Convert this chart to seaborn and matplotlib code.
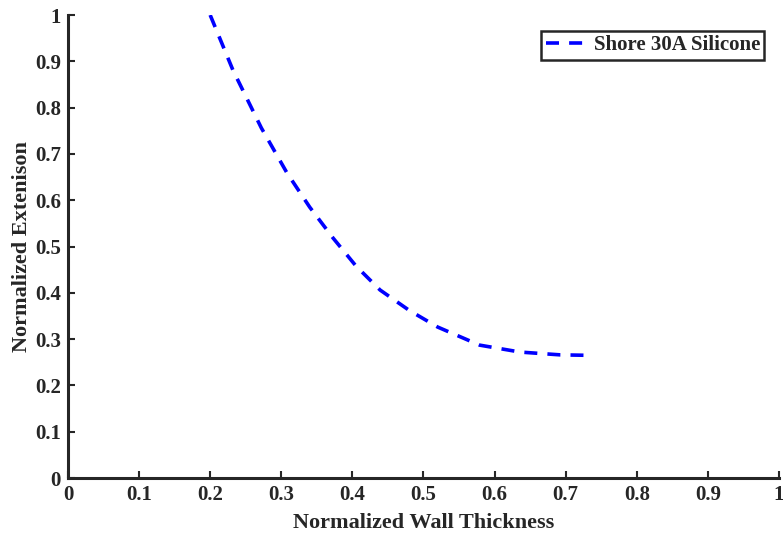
import numpy as np
import pandas as pd
import matplotlib
matplotlib.use('Agg')
import matplotlib.pyplot as plt
import seaborn as sns

# values
wall_thickness = [0.200, 0.232, 0.272, 0.308, 0.340, 0.373, 0.405, 0.439,
                  0.480, 0.520, 0.579, 0.636, 0.692, 0.731]
extension = [1.000, 0.881, 0.756, 0.659, 0.585, 0.518, 0.458, 0.406,
             0.362, 0.326, 0.287, 0.272, 0.266, 0.265]
series_name = 'Shore 30A Silicone'
ticks = [0, 0.1, 0.2, 0.3, 0.4, 0.5, 0.6, 0.7, 0.8, 0.9, 1]
tick_labels = ['0', '0.1', '0.2', '0.3', '0.4', '0.5', '0.6', '0.7', '0.8', '0.9', '1']

sns.set_style('ticks')
plt.rcParams['font.family'] = ['Liberation Serif', 'DejaVu Serif']
plt.rcParams['font.weight'] = 'bold'

df = pd.DataFrame({'x': wall_thickness, 'y': extension, 'name': series_name})

dash = (3.6, 2.8)

fig = plt.figure(figsize=(7.83, 5.4), dpi=100)
ax = fig.add_axes([0.0868, 0.1148, 0.9081, 0.8574])

sns.lineplot(data=df, x='x', y='y', hue='name', palette=['#0000ff'], sort=False,
             linewidth=2.6, ax=ax)
ax.lines[0].set_dashes(dash)

ax.set_xlim(0, 1)
ax.set_ylim(0, 1)
ax.set_xticks(ticks)
ax.set_xticklabels(tick_labels)
ax.set_yticks(ticks)
ax.set_yticklabels(tick_labels)
ax.tick_params(direction='in', length=5, width=1.5, colors='#262626',
               labelsize=15, pad=5)
for lab in ax.get_xticklabels() + ax.get_yticklabels():
    lab.set_fontweight('bold')
sns.despine(ax=ax)
for side in ['left', 'bottom']:
    ax.spines[side].set_linewidth(2.2)
    ax.spines[side].set_color('#262626')

ax.set_xlabel('Normalized Wall Thickness', fontsize=16, fontweight='bold',
              color='#262626', labelpad=6)
ax.set_ylabel('Normalized Extenison', fontsize=16, fontweight='bold',
              color='#262626', labelpad=2)

leg = ax.legend(loc='upper right', bbox_to_anchor=(0.979, 0.965), fontsize=15,
                frameon=True, fancybox=False, framealpha=1, edgecolor='#262626',
                handlelength=2.1, handletextpad=0.2, borderpad=0.2,
                borderaxespad=0)
leg.get_frame().set_linewidth(1.8)
leg.get_lines()[0].set_dashes(dash)
leg.get_lines()[0].set_linewidth(2.6)
for t in leg.get_texts():
    t.set_fontweight('bold')
    t.set_color('#262626')

fig.savefig('out.png', dpi=100)
